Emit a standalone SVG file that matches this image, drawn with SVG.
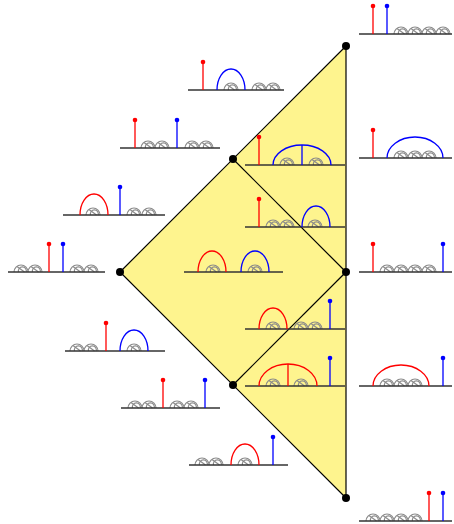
<svg xmlns="http://www.w3.org/2000/svg" xmlns:xlink="http://www.w3.org/1999/xlink" width="454" height="524" viewBox="0 0 454 524">
<style>
.base{stroke:#333;stroke-width:1.3;fill:none}
.lp{stroke:#8a8a8a;stroke-width:1.2;fill:none}
.r{stroke:#f00;stroke-width:1.3;fill:none}
.b{stroke:#00f;stroke-width:1.3;fill:none}
.rd{fill:#f00}
.bd{fill:#00f}
.edge{stroke:#000;stroke-width:1.2;fill:none}
.node{fill:#000}
</style>
<defs>
<g id="lp" class="lp"><path d="M-7,0 A7,7 0 0 1 7,0"/><path d="M-2.5,0 A4,4 0 1 1 5.2,0"/><path d="M-4,-5.5 L3.5,0"/></g>
</defs>
<polygon points="120,272 346,46 346,498" fill="#fef48e" stroke="#000" stroke-width="1.2"/>
<g id="connectors">
<line class="edge" x1="233" y1="159" x2="346" y2="272"/>
<line class="edge" x1="233" y1="385" x2="346" y2="272"/>
</g>
<g id="n1"><circle class="node" cx="120" cy="272" r="4"/></g>
<g id="n2"><circle class="node" cx="233" cy="159" r="4"/></g>
<g id="n3"><circle class="node" cx="233" cy="385" r="4"/></g>
<g id="n4"><circle class="node" cx="346" cy="46" r="4"/></g>
<g id="n5"><circle class="node" cx="346" cy="272" r="4"/></g>
<g id="n6"><circle class="node" cx="346" cy="498" r="4"/></g>

<g id="d1">
<use href="#lp" x="401" y="34"/><use href="#lp" x="415" y="34"/><use href="#lp" x="429" y="34"/><use href="#lp" x="443" y="34"/>
<line class="base" x1="359" y1="34" x2="452" y2="34"/>
<line class="r" x1="373" y1="34" x2="373" y2="6"/><circle class="rd" cx="373" cy="6" r="2.3"/>
<line class="b" x1="387" y1="34" x2="387" y2="6"/><circle class="bd" cx="387" cy="6" r="2.3"/>
</g>
<g id="d2">
<use href="#lp" x="231" y="90"/><use href="#lp" x="259" y="90"/><use href="#lp" x="273" y="90"/>
<line class="base" x1="188" y1="90" x2="284" y2="90"/>
<line class="r" x1="203" y1="90" x2="203" y2="62"/><circle class="rd" cx="203" cy="62" r="2.3"/>
<path class="b" d="M217,90 A14,21 0 0 1 245,90"/>
</g>
<g id="d3">
<use href="#lp" x="148" y="148"/><use href="#lp" x="162" y="148"/><use href="#lp" x="192" y="148"/><use href="#lp" x="206" y="148"/>
<line class="base" x1="120" y1="148" x2="220" y2="148"/>
<line class="r" x1="135" y1="148" x2="135" y2="120"/><circle class="rd" cx="135" cy="120" r="2.3"/>
<line class="b" x1="177" y1="148" x2="177" y2="120"/><circle class="bd" cx="177" cy="120" r="2.3"/>
</g>
<g id="d4">
<use href="#lp" x="287" y="165"/><use href="#lp" x="316" y="165"/>
<line class="base" x1="245" y1="165" x2="345" y2="165"/>
<line class="r" x1="259" y1="165" x2="259" y2="137"/><circle class="rd" cx="259" cy="137" r="2.3"/>
<path class="b" d="M273,165 A29,20 0 0 1 331,165"/>
<line class="b" x1="302" y1="145" x2="302" y2="165"/>
</g>
<g id="d5">
<use href="#lp" x="93" y="215"/><use href="#lp" x="134" y="215"/><use href="#lp" x="149" y="215"/>
<line class="base" x1="63" y1="215" x2="165" y2="215"/>
<path class="r" d="M80,215 A14,21 0 0 1 108,215"/>
<line class="b" x1="120" y1="215" x2="120" y2="187"/><circle class="bd" cx="120" cy="187" r="2.3"/>
</g>
<g id="d6">
<use href="#lp" x="273" y="227"/><use href="#lp" x="287" y="227"/><use href="#lp" x="315" y="227"/>
<line class="base" x1="245" y1="227" x2="345" y2="227"/>
<line class="r" x1="259" y1="227" x2="259" y2="199"/><circle class="rd" cx="259" cy="199" r="2.3"/>
<path class="b" d="M302,227 A14,21 0 0 1 330,227"/>
</g>
<g id="d7">
<use href="#lp" x="21" y="272"/><use href="#lp" x="35" y="272"/><use href="#lp" x="77" y="272"/><use href="#lp" x="91" y="272"/>
<line class="base" x1="8" y1="272" x2="105" y2="272"/>
<line class="r" x1="49" y1="272" x2="49" y2="244"/><circle class="rd" cx="49" cy="244" r="2.3"/>
<line class="b" x1="63" y1="272" x2="63" y2="244"/><circle class="bd" cx="63" cy="244" r="2.3"/>
</g>
<g id="d8">
<use href="#lp" x="213" y="272"/><use href="#lp" x="255" y="272"/>
<line class="base" x1="184" y1="272" x2="283" y2="272"/>
<path class="r" d="M198,272 A14,21 0 0 1 226,272"/>
<path class="b" d="M241,272 A14,21 0 0 1 269,272"/>
</g>
<g id="d9">
<use href="#lp" x="401" y="158"/><use href="#lp" x="415" y="158"/><use href="#lp" x="429" y="158"/>
<line class="base" x1="359" y1="158" x2="452" y2="158"/>
<line class="r" x1="373" y1="158" x2="373" y2="130"/><circle class="rd" cx="373" cy="130" r="2.3"/>
<path class="b" d="M387,158 A28,21 0 0 1 443,158"/>
</g>
<g id="d10">
<use href="#lp" x="387" y="272"/><use href="#lp" x="401" y="272"/><use href="#lp" x="415" y="272"/><use href="#lp" x="429" y="272"/>
<line class="base" x1="359" y1="272" x2="452" y2="272"/>
<line class="r" x1="373" y1="272" x2="373" y2="244"/><circle class="rd" cx="373" cy="244" r="2.3"/>
<line class="b" x1="443" y1="272" x2="443" y2="244"/><circle class="bd" cx="443" cy="244" r="2.3"/>
</g>
<g id="d11">
<use href="#lp" x="273" y="329"/><use href="#lp" x="301" y="329"/><use href="#lp" x="315" y="329"/>
<line class="base" x1="245" y1="329" x2="345" y2="329"/>
<path class="r" d="M259,329 A14,21 0 0 1 287,329"/>
<line class="b" x1="330" y1="329" x2="330" y2="301"/><circle class="bd" cx="330" cy="301" r="2.3"/>
</g>
<g id="d12">
<use href="#lp" x="273" y="386"/><use href="#lp" x="301" y="386"/>
<line class="base" x1="245" y1="386" x2="345" y2="386"/>
<path class="r" d="M259,386 A29,22 0 0 1 317,386"/>
<line class="r" x1="288" y1="364" x2="288" y2="386"/>
<line class="b" x1="330" y1="386" x2="330" y2="358"/><circle class="bd" cx="330" cy="358" r="2.3"/>
</g>
<g id="d13">
<use href="#lp" x="77" y="351"/><use href="#lp" x="91" y="351"/><use href="#lp" x="134" y="351"/>
<line class="base" x1="65" y1="351" x2="165" y2="351"/>
<line class="r" x1="106" y1="351" x2="106" y2="323"/><circle class="rd" cx="106" cy="323" r="2.3"/>
<path class="b" d="M120,351 A14,21 0 0 1 148,351"/>
</g>
<g id="d14">
<use href="#lp" x="135" y="408"/><use href="#lp" x="149" y="408"/><use href="#lp" x="177" y="408"/><use href="#lp" x="191" y="408"/>
<line class="base" x1="121" y1="408" x2="220" y2="408"/>
<line class="r" x1="163" y1="408" x2="163" y2="380"/><circle class="rd" cx="163" cy="380" r="2.3"/>
<line class="b" x1="205" y1="408" x2="205" y2="380"/><circle class="bd" cx="205" cy="380" r="2.3"/>
</g>
<g id="d15">
<use href="#lp" x="202" y="465"/><use href="#lp" x="216" y="465"/><use href="#lp" x="245" y="465"/>
<line class="base" x1="189" y1="465" x2="288" y2="465"/>
<path class="r" d="M231,465 A14,21 0 0 1 259,465"/>
<line class="b" x1="273" y1="465" x2="273" y2="437"/><circle class="bd" cx="273" cy="437" r="2.3"/>
</g>
<g id="d16">
<use href="#lp" x="387" y="386"/><use href="#lp" x="401" y="386"/><use href="#lp" x="415" y="386"/>
<line class="base" x1="359" y1="386" x2="452" y2="386"/>
<path class="r" d="M373,386 A28,21 0 0 1 429,386"/>
<line class="b" x1="443" y1="386" x2="443" y2="358"/><circle class="bd" cx="443" cy="358" r="2.3"/>
</g>
<g id="d17">
<use href="#lp" x="373" y="521"/><use href="#lp" x="387" y="521"/><use href="#lp" x="401" y="521"/><use href="#lp" x="415" y="521"/>
<line class="base" x1="359" y1="521" x2="452" y2="521"/>
<line class="r" x1="429" y1="521" x2="429" y2="493"/><circle class="rd" cx="429" cy="493" r="2.3"/>
<line class="b" x1="443" y1="521" x2="443" y2="493"/><circle class="bd" cx="443" cy="493" r="2.3"/>
</g>
</svg>
